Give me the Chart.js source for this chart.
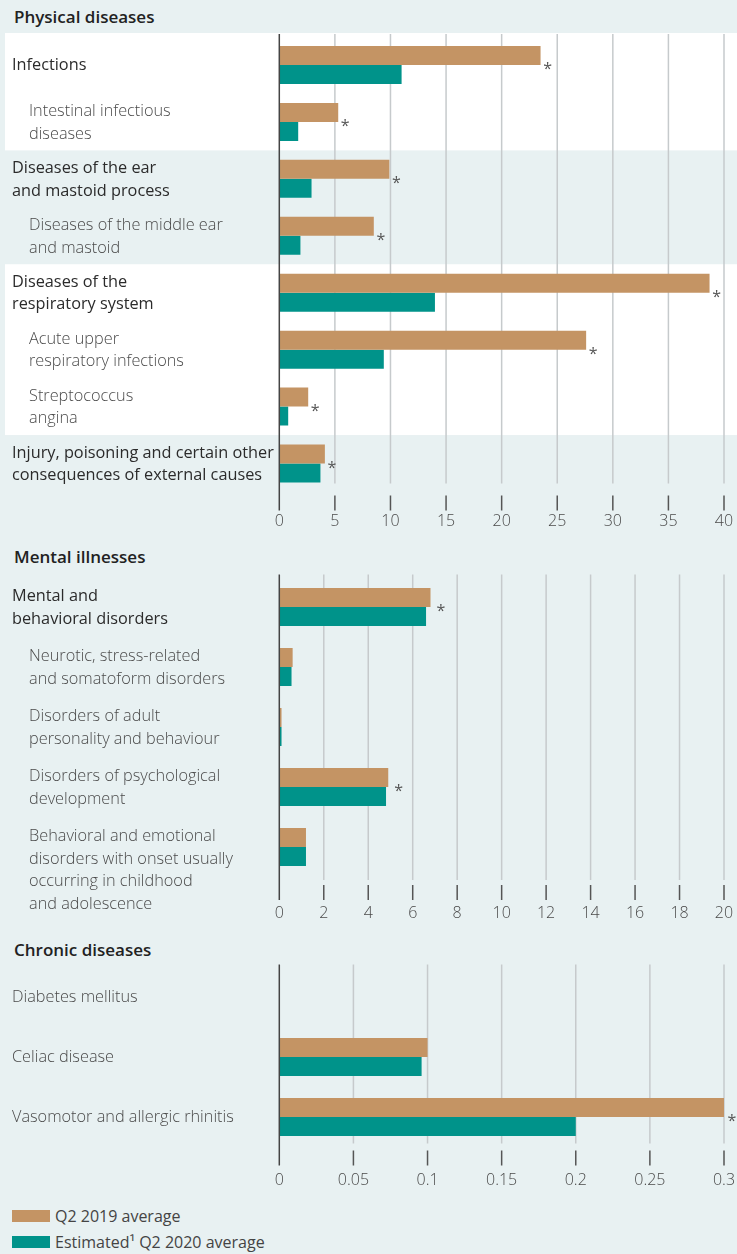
<!DOCTYPE html>
<html>
<head>
<meta charset="utf-8">
<script src="https://cdn.jsdelivr.net/npm/chart.js@4.4.1/dist/chart.umd.min.js"></script>
<style>
  html, body { margin: 0; padding: 0; }
  body {
    width: 737px; height: 1254px; position: relative; overflow: hidden;
    background: #e8f1f2; font-family: "Open Sans", sans-serif; color: #2b2b2b;
  }
  .title { position: absolute; left: 14px; font-size: 17px; font-weight: 600; line-height: 20px; color: #222; }
  canvas { position: absolute; left: 0; }
  .legend { position: absolute; left: 12px; top: 1203px; font-size: 16px; color: #444; }
  .legend div { display: flex; align-items: center; height: 26px; }
  .legend .sw { display: inline-block; width: 38px; height: 12px; margin-right: 5px; }
</style>
</head>
<body>

<div class="title" style="top:7px">Physical diseases</div>
<canvas id="physical" width="737" height="510" style="top:30px"></canvas>

<div class="title" style="top:547px">Mental illnesses</div>
<canvas id="mental" width="737" height="355" style="top:570px"></canvas>

<div class="title" style="top:940px">Chronic diseases</div>
<canvas id="chronic" width="737" height="235" style="top:960px"></canvas>

<div class="legend">
  <div><span class="sw" style="background:#c49464"></span>Q2 2019 average</div>
  <div><span class="sw" style="background:#00938a"></span>Estimated¹ Q2 2020 average</div>
</div>

<script>
const TAN = "#c49464";
const TEAL = "#00938a";

// physical diseases
const physicalLabels = [
    ["Infections"],
    ["Intestinal infectious", "diseases"],
    ["Diseases of the ear", "and mastoid process"],
    ["Diseases of the middle ear", "and mastoid"],
    ["Diseases of the", "respiratory system"],
    ["Acute upper", "respiratory infections"],
    ["Streptococcus", "angina"],
    ["Injury, poisoning and certain other", "consequences of external causes"]
];
const physicalLevel = [0, 1, 0, 1, 0, 1, 1, 0];
const physical2019 = [23.5, 5.3, 9.9, 8.5, 38.7, 27.6, 2.6, 4.1];
const physical2020 = [11.0, 1.7, 2.9, 1.9, 14.0, 9.4, 0.8, 3.7];
const physicalStar = [1, 1, 1, 1, 1, 1, 1, 1];
const physicalGroups = [[0, 1], [4, 6]];

// mental illnesses
const mentalLabels = [
    ["Mental and", "behavioral disorders"],
    ["Neurotic, stress-related", "and somatoform disorders"],
    ["Disorders of adult", "personality and behaviour"],
    ["Disorders of psychological", "development"],
    ["Behavioral and emotional", "disorders with onset usually", "occurring in childhood", "and adolescence"]
];
const mentalLevel = [0, 1, 1, 1, 1];
const mental2019 = [6.8, 0.6, 0.1, 4.9, 1.2];
const mental2020 = [6.6, 0.55, 0.1, 4.8, 1.2];
const mentalStar = [1, 0, 0, 1, 0];

// chronic diseases
const chronicLabels = [
    ["Diabetes mellitus"],
    ["Celiac disease"],
    ["Vasomotor and allergic rhinitis"]
];
const chronicLevel = [1, 1, 1];
const chronic2019 = [0, 0.1, 0.3];
const chronic2020 = [0, 0.096, 0.2];
const chronicStar = [0, 0, 1];

const FONT = '"Open Sans", sans-serif';

const panelPlugin = {
    id: "panel",
    beforeDraw(chart, args, o) {
        const { ctx, chartArea } = chart;
        const y = chart.scales.y;
        const step = y.getPixelForValue(1) - y.getPixelForValue(0);
        ctx.save();
        ctx.fillStyle = "#ffffff";
        (o.groups || []).forEach(([a, b]) => {
            const top = a === 0 ? chartArea.top - 3.5 : y.getPixelForValue(a) - step / 2;
            const bottom = y.getPixelForValue(b) + step / 2;
            ctx.fillRect(5, top, chart.width - 5, bottom - top);
        });

        // category labels
        ctx.textBaseline = "middle";
        ctx.textAlign = "left";
        o.labels.forEach((lines, i) => {
            const sub = o.level[i] === 1;
            ctx.font = (sub ? "300 " : "400 ") + "16.3px " + FONT;
            ctx.fillStyle = sub ? "#4a4a4a" : "#2b2b2b";
            const c = y.getPixelForValue(i) + 0.8;
            const first = c - (Math.min(lines.length, 2) - 1) * 11.3;
            const x = 12 + (sub ? o.indent : 0);
            lines.forEach((t, k) => ctx.fillText(t, x, first + k * 22.6));
        });
        ctx.restore();
    },
    beforeDatasetsDraw(chart, args, o) {
        const { ctx, chartArea } = chart;
        const x = chart.scales.x;
        ctx.save();
        ctx.lineWidth = 1.5;
        x.ticks.forEach(t => {
            if (t.value === 0) return;
            const px = x.getPixelForValue(t.value);
            ctx.strokeStyle = "#c6cacc";
            ctx.beginPath();
            ctx.moveTo(px, chartArea.top - 2.5);
            ctx.lineTo(px, chartArea.bottom + o.gridEnd);
            ctx.stroke();
            ctx.strokeStyle = "#555";
            ctx.beginPath();
            ctx.moveTo(px, chartArea.bottom + o.tickStart);
            ctx.lineTo(px, chartArea.bottom + o.tickStart + 15);
            ctx.stroke();
        });
        ctx.restore();
    },
    afterDatasetsDraw(chart, args, o) {
        const { ctx, chartArea } = chart;
        const x = chart.scales.x;
        const y = chart.scales.y;
        ctx.save();
        const x0 = x.getPixelForValue(0);
        ctx.strokeStyle = "#444";
        ctx.lineWidth = 1.5;
        ctx.beginPath();
        ctx.moveTo(x0, chartArea.top - 2.5);
        ctx.lineTo(x0, chartArea.bottom + o.tickStart + 15);
        ctx.stroke();

        // significance asterisks
        ctx.fillStyle = "#555";
        ctx.font = "16px " + FONT;
        ctx.textAlign = "center";
        ctx.textBaseline = "alphabetic";
        const d0 = chart.data.datasets[0].data;
        const d1 = chart.data.datasets[1].data;
        o.stars.forEach((s, i) => {
            if (!s) return;
            const px = x.getPixelForValue(Math.max(d0[i], d1[i])) + o.starGap;
            ctx.fillText("*", px, y.getPixelForValue(i) + 9);
        });
        ctx.restore();
    }
};

function makeChart(id, cfg) {
    return new Chart(document.getElementById(id), {
        type: "bar",
        data: {
            labels: cfg.labels.map(l => l.join(" ")),
            datasets: [
                { label: "Q2 2019 average", data: cfg.a, backgroundColor: TAN },
                { label: "Estimated¹ Q2 2020 average", data: cfg.b, backgroundColor: TEAL }
            ]
        },
        options: {
            indexAxis: "y",
            responsive: false,
            animation: false,
            events: [],
            categoryPercentage: cfg.catPct,
            barPercentage: 1,
            layout: { padding: { left: 279.3, right: 13, top: cfg.padTop, bottom: 0 } },
            scales: {
                y: { display: false },
                x: {
                    type: "linear",
                    min: 0,
                    max: cfg.max,
                    grid: { display: false, drawTicks: false },
                    border: { display: false },
                    ticks: {
                        stepSize: cfg.step,
                        padding: cfg.labelPad,
                        autoSkip: false,
                        maxRotation: 0,
                        color: "#4a4a4a",
                        font: { family: FONT, size: 16, weight: "300" },
                        callback: v => String(+v.toFixed(2))
                    },
                    afterFit: s => {
                        s.height = 48;
                        s.paddingLeft = 0;
                        s.paddingRight = 0;
                    }
                }
            },
            plugins: {
                legend: { display: false },
                tooltip: { enabled: false },
                panel: {
                    labels: cfg.labels,
                    level: cfg.level,
                    indent: cfg.indent,
                    groups: cfg.groups,
                    stars: cfg.stars,
                    starGap: cfg.starGap,
                    gridEnd: cfg.gridEnd,
                    tickStart: cfg.tickStart
                }
            }
        },
        plugins: [panelPlugin]
    });
}

makeChart("physical", {
    labels: physicalLabels, level: physicalLevel, indent: 17, groups: physicalGroups,
    a: physical2019, b: physical2020, stars: physicalStar, starGap: 7,
    max: 40, step: 5, catPct: 38 / 57, padTop: 6.5,
    gridEnd: -8.5, tickStart: 3.5, labelPad: 20
});

makeChart("mental", {
    labels: mentalLabels, level: mentalLevel, indent: 17, groups: [],
    a: mental2019, b: mental2020, stars: mentalStar, starGap: 10.5,
    max: 20, step: 2, catPct: 38 / 60, padTop: 7,
    gridEnd: 3, tickStart: 8, labelPad: 26.5
});

makeChart("chronic", {
    labels: chronicLabels, level: chronicLevel, indent: 0, groups: [],
    a: chronic2019, b: chronic2020, stars: chronicStar, starGap: 8,
    max: 0.3, step: 0.05, catPct: 38 / 60, padTop: 7,
    gridEnd: -3.5, tickStart: 3.5, labelPad: 23.5
});
</script>
</body>
</html>
